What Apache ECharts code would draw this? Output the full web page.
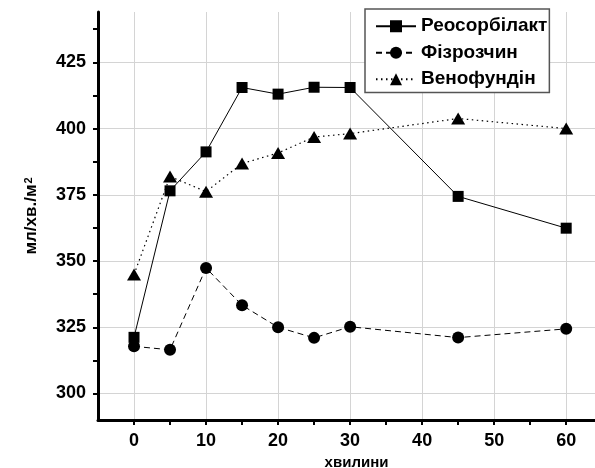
<!DOCTYPE html>
<html>
<head>
<meta charset="utf-8">
<script src="https://cdn.jsdelivr.net/npm/echarts@6/dist/echarts.min.js"></script>
<style>
html,body{margin:0;padding:0;background:#fff;}
#chart{width:595px;height:468px;}
</style>
</head>
<body>
<div id="chart"></div>
<script>
const minutes = [0, 5, 10, 15, 20, 25, 30, 45, 60];
const reosorbilakt = [321.2, 376.5, 391.2, 415.5, 413.0, 415.6, 415.5, 374.4, 362.4];
const fizrozchyn = [317.8, 316.5, 347.4, 333.3, 325.0, 321.0, 325.2, 321.1, 324.4];
const venofundin = [344.9, 381.9, 376.2, 386.8, 390.8, 396.8, 398.1, 403.8, 400.0];
const seriesNames = ['Реосорбілакт', 'Фізрозчин', 'Венофундін'];
const xLabelValues = [0, 10, 20, 30, 40, 50, 60];
const xTickValues = [0, 5, 10, 15, 20, 25, 30, 35, 40, 45, 50, 55, 60];
const yLabelValues = [300, 325, 350, 375, 400, 425];
const yTickValues = [300, 312.5, 325, 337.5, 350, 362.5, 375, 387.5, 400, 412.5, 425, 437.5];

const FONT = 'Liberation Sans, Arial, sans-serif';
const pairs = arr => minutes.map((m, i) => [m, arr[i]]);

const chart = echarts.init(document.getElementById('chart'));
const xCommon = {type: 'value', min: -5, max: 64};
const yCommon = {type: 'value', min: 290, max: 444};
chart.setOption({
  animation: false,
  backgroundColor: '#fff',
  grid: {left: 98, right: 0, top: 12, bottom: 48, containLabel: false, outerBoundsMode: 'none'},
  legend: {
    left: 365, top: 9, orient: 'vertical',
    padding: [7, 2, 3, 10],
    itemGap: 6, itemWidth: 40, itemHeight: 15,
    borderColor: '#555', borderWidth: 1.5, backgroundColor: '#fff',
    textStyle: {fontFamily: FONT, fontSize: 19, fontWeight: 'bold', color: '#000', lineHeight: 20.5},
    data: seriesNames
  },
  xAxis: [
    Object.assign({}, xCommon, {
      position: 'bottom',
      name: 'хвилини', nameLocation: 'middle', nameGap: 32,
      nameTextStyle: {fontFamily: FONT, fontSize: 15, fontWeight: 'bold', color: '#000', padding: [0, 0, 0, 20]},
      axisLine: {show: true, onZero: false, lineStyle: {color: '#000', width: 3}},
      axisTick: {show: true, inside: false, length: 5, customValues: xTickValues, lineStyle: {color: '#000', width: 2}},
      axisLabel: {customValues: xLabelValues, margin: 12, fontFamily: FONT, fontSize: 18, fontWeight: 'bold', color: '#000'},
      splitLine: {show: false}
    }),
    Object.assign({}, xCommon, {
      position: 'bottom',
      axisLine: {show: false},
      axisTick: {show: false, customValues: xLabelValues},
      axisLabel: {show: false},
      splitLine: {show: true, lineStyle: {color: '#d4d4d4', width: 1}}
    })
  ],
  yAxis: [
    Object.assign({}, yCommon, {
      position: 'left',
      name: '{a|мл/хв./м}{s|2}', nameLocation: 'middle', nameGap: 57, nameRotate: 90,
      nameTextStyle: {
        fontFamily: FONT, fontSize: 17, fontWeight: 'bold', color: '#000',
        rich: {
          a: {fontFamily: FONT, fontSize: 17, fontWeight: 'bold', color: '#000', verticalAlign: 'bottom', lineHeight: 17},
          s: {fontFamily: FONT, fontSize: 11, fontWeight: 'bold', color: '#000', verticalAlign: 'top', lineHeight: 11, padding: [0, 0, 11, 1]}
        }
      },
      axisLine: {show: true, onZero: false, lineStyle: {color: '#000', width: 3}},
      axisTick: {show: true, inside: false, length: 5, customValues: yTickValues, lineStyle: {color: '#000', width: 2}},
      axisLabel: {customValues: yLabelValues, margin: 12, fontFamily: FONT, fontSize: 18, fontWeight: 'bold', color: '#000'},
      splitLine: {show: false}
    }),
    Object.assign({}, yCommon, {
      position: 'left',
      axisLine: {show: false},
      axisTick: {show: false, customValues: yLabelValues},
      axisLabel: {show: false},
      splitLine: {show: true, lineStyle: {color: '#d4d4d4', width: 1}}
    })
  ],
  series: [
    {
      name: seriesNames[0], type: 'line', data: pairs(reosorbilakt),
      xAxisIndex: 0, yAxisIndex: 0,
      symbol: 'rect', symbolSize: 11, z: 3,
      lineStyle: {color: '#000', width: 1, type: 'solid'},
      itemStyle: {color: '#000'}
    },
    {
      name: seriesNames[1], type: 'line', data: pairs(fizrozchyn),
      xAxisIndex: 0, yAxisIndex: 0,
      symbol: 'circle', symbolSize: 12, z: 3,
      lineStyle: {color: '#000', width: 1, type: [6, 4]},
      itemStyle: {color: '#000'}
    },
    {
      name: seriesNames[2], type: 'line', data: pairs(venofundin),
      xAxisIndex: 0, yAxisIndex: 0,
      symbol: 'triangle', symbolSize: [14, 12], z: 3,
      lineStyle: {color: '#000', width: 1.2, type: [1.5, 3.5]},
      itemStyle: {color: '#000'}
    }
  ]
});
</script>
</body>
</html>
